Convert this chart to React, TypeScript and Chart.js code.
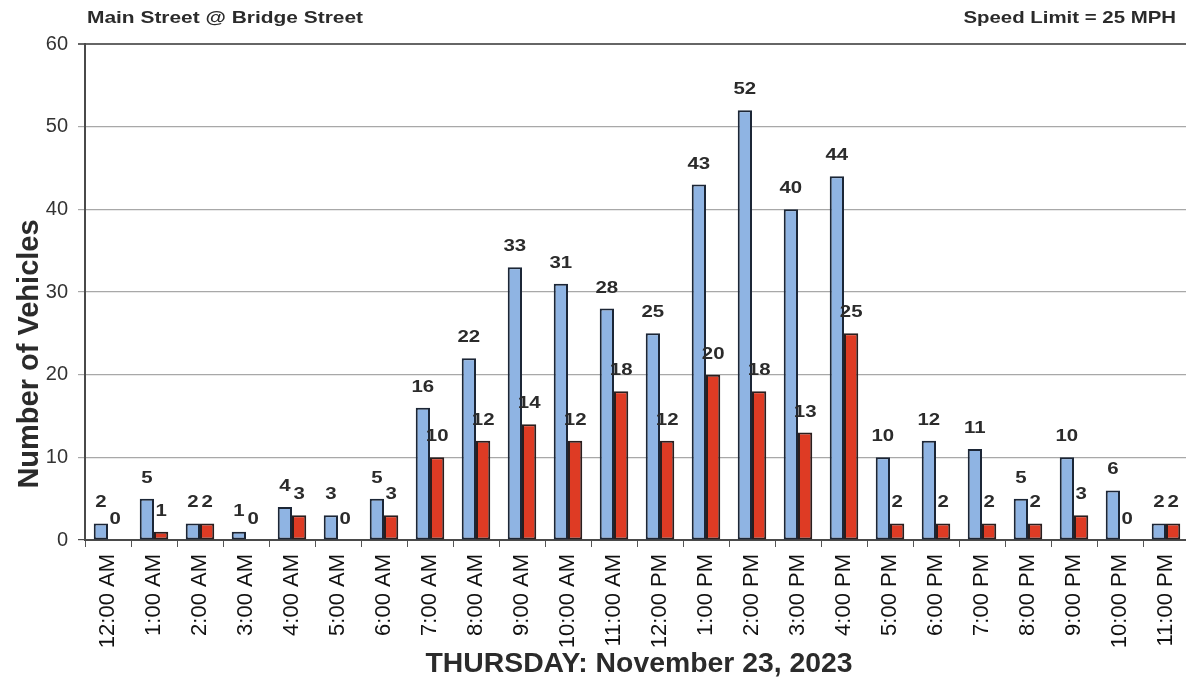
import React, { useEffect, useRef } from "react";
import { Chart, registerables } from "chart.js";

Chart.register(...registerables);

// Hourly vehicle counts at Main Street @ Bridge Street
const hours = [
  "12:00 AM", "1:00 AM", "2:00 AM", "3:00 AM", "4:00 AM", "5:00 AM",
  "6:00 AM", "7:00 AM", "8:00 AM", "9:00 AM", "10:00 AM", "11:00 AM",
  "12:00 PM", "1:00 PM", "2:00 PM", "3:00 PM", "4:00 PM", "5:00 PM",
  "6:00 PM", "7:00 PM", "8:00 PM", "9:00 PM", "10:00 PM", "11:00 PM",
];
const totalVehicles = [2, 5, 2, 1, 4, 3, 5, 16, 22, 33, 31, 28, 25, 43, 52, 40, 44, 10, 12, 11, 5, 10, 6, 2];
const speedingVehicles = [0, 1, 2, 0, 3, 0, 3, 10, 12, 14, 12, 18, 12, 20, 18, 13, 25, 2, 2, 2, 2, 3, 0, 2];
const yTicks = [0, 10, 20, 30, 40, 50, 60];

const chartTitle = "Main Street @ Bridge Street";
const speedNote = "Speed Limit = 25 MPH";
const yTitle = "Number of Vehicles";
const xTitle = "THURSDAY: November 23, 2023";

const textColor = "#2b2b2b";
const fontFamily = "'Liberation Sans', Arial, sans-serif";

const annotations = {
  id: "annotations",
  afterDatasetsDraw(chart: any) {
    const { ctx } = chart;
    ctx.save();
    ctx.fillStyle = textColor;
    ctx.textAlign = "center";
    ctx.textBaseline = "alphabetic";
    ctx.font = `bold 17px ${fontFamily}`;
    chart.data.datasets.forEach((ds: any, di: number) => {
      const meta = chart.getDatasetMeta(di);
      meta.data.forEach((el: any, i: number) => {
        ctx.save();
        ctx.translate(el.x, el.y - 16);
        ctx.scale(1.2, 1);
        ctx.fillText(String(ds.data[i]), 0, 0);
        ctx.restore();
      });
    });
    ctx.restore();
  },
  afterDraw(chart: any) {
    const { ctx } = chart;
    ctx.save();
    ctx.fillStyle = textColor;
    // header texts
    ctx.font = `bold 17px ${fontFamily}`;
    ctx.textBaseline = "alphabetic";
    ctx.save();
    ctx.translate(87, 23);
    ctx.scale(1.23, 1);
    ctx.textAlign = "left";
    ctx.fillText(chartTitle, 0, 0);
    ctx.restore();
    ctx.save();
    ctx.translate(1176, 23);
    ctx.scale(1.2, 1);
    ctx.textAlign = "right";
    ctx.fillText(speedNote, 0, 0);
    ctx.restore();

    // axis titles
    ctx.font = `bold 27px ${fontFamily}`;
    ctx.textAlign = "center";
    ctx.save();
    ctx.translate(639, 672);
    ctx.scale(1.05, 1);
    ctx.fillText(xTitle, 0, 0);
    ctx.restore();
    ctx.font = `bold 29px ${fontFamily}`;
    ctx.save();
    ctx.translate(38, 354);
    ctx.rotate(-Math.PI / 2);
    ctx.fillText(yTitle, 0, 0);
    ctx.restore();
    ctx.restore();
  },
};

export default function App() {
  const canvasRef = useRef<HTMLCanvasElement | null>(null);

  useEffect(() => {
    if (!canvasRef.current) return;
    const chart = new Chart(canvasRef.current, {
      type: "bar",
      data: {
        labels: hours,
        datasets: [
          {
            label: "Total Vehicles",
            data: totalVehicles,
            backgroundColor: "#8fb4e3",
            borderColor: "#1c2636",
            borderWidth: 2,
            borderSkipped: false,
            categoryPercentage: 0.62,
            barPercentage: 1.0,
          },
          {
            label: "Speeding Vehicles",
            data: speedingVehicles,
            backgroundColor: "#de3b24",
            borderColor: "#2a1e1e",
            borderWidth: 2,
            borderSkipped: false,
            categoryPercentage: 0.62,
            barPercentage: 1.0,
          },
        ],
      },
      options: {
        responsive: false,
        animation: false,
        layout: { padding: { top: 44, right: 0, left: 0, bottom: 0 } },
        plugins: {
          legend: { display: false },
          tooltip: { enabled: false },
          title: { display: false },
        },
        scales: {
          x: {
            offset: true,
            grid: {
              offset: true,
              drawOnChartArea: false,
              drawTicks: true,
              tickLength: 7,
              color: "#555",
              lineWidth: 1,
            },
            border: { display: true, color: "#4a4a4a", width: 2 },
            ticks: {
              minRotation: 90,
              maxRotation: 90,
              autoSkip: false,
              padding: 7,
              color: "#111",
              font: { size: 22, family: fontFamily },
            },
            afterFit: (scale: any) => {
              scale.height = 139;
              scale.paddingLeft = 0;
              scale.paddingRight = 0;
            },
          },
          y: {
            min: 0,
            max: 60,
            afterBuildTicks: (scale: any) => {
              scale.ticks = yTicks.map((v) => ({ value: v }));
            },
            grid: {
              color: (c: any) =>
                c.tick && c.tick.value === 60 ? "#666" : c.tick && c.tick.value === 0 ? "#4a4a4a" : "#a8a8a8",
              lineWidth: (c: any) => (c.tick && c.tick.value === 60 ? 2 : 1.2),
              tickLength: 7,
            },
            border: { display: true, color: "#4a4a4a", width: 2 },
            ticks: {
              padding: 10,
              color: "#333",
              font: { size: 20, family: fontFamily },
            },
            afterFit: (scale: any) => {
              scale.width = 85;
              scale.paddingTop = 0;
              scale.paddingBottom = 0;
            },
          },
        },
      },
      plugins: [annotations],
    });
    return () => chart.destroy();
  }, []);

  return (
    <div
      style={{
        position: "fixed",
        left: 0,
        top: 0,
        width: 1186,
        height: 679,
        overflow: "hidden",
        background: "#fff",
      }}
    >
      <canvas ref={canvasRef} width={1189} height={679} style={{ display: "block" }} />
    </div>
  );
}
